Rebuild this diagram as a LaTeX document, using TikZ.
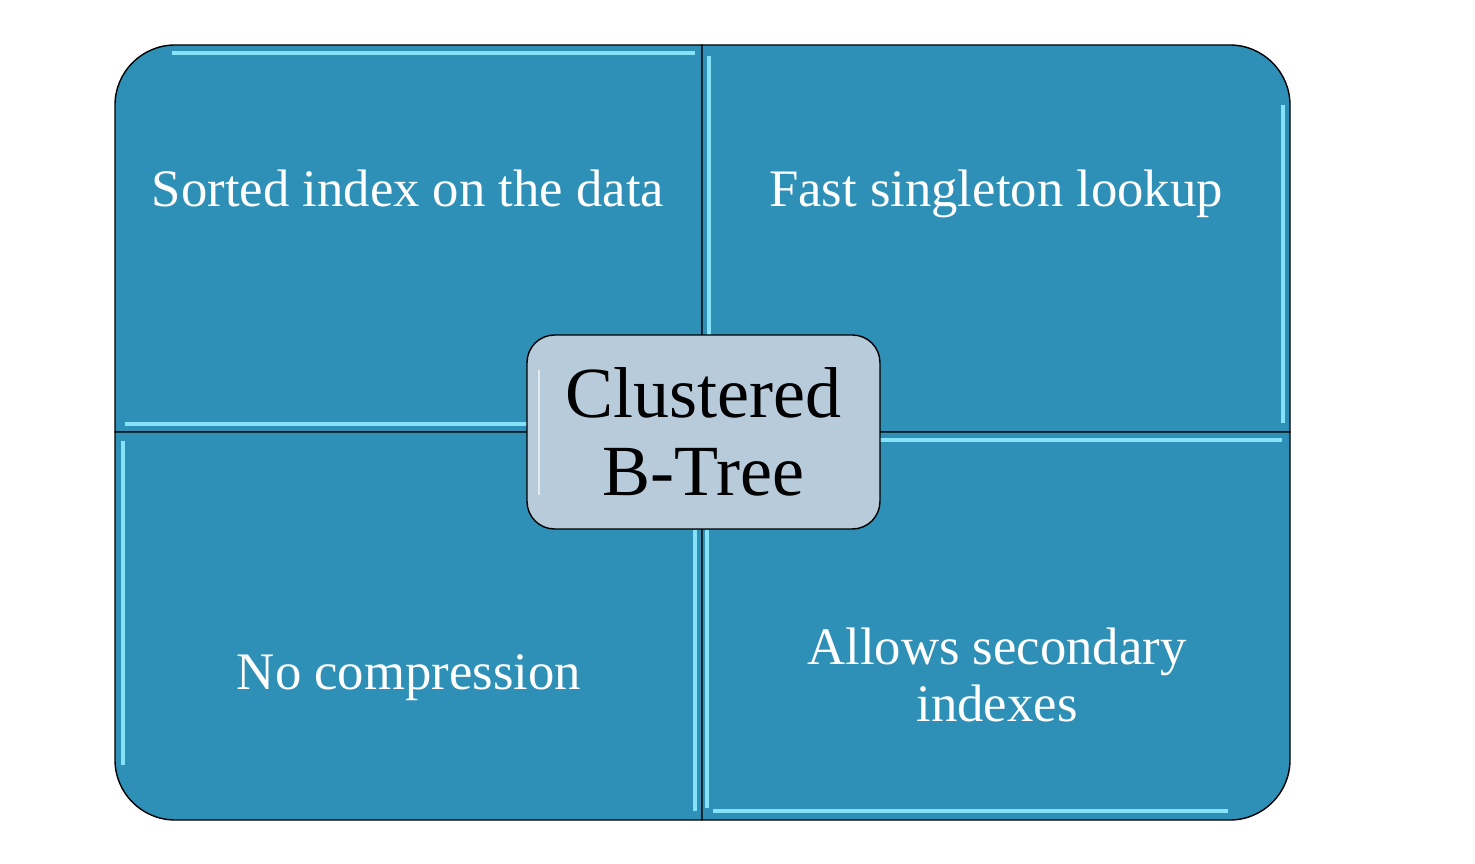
\documentclass[tikz,border=0pt]{standalone}
\usepackage{fontspec}
\setmainfont{Liberation Serif}
\usepackage{tikz}
\definecolor{btblue}{HTML}{2E90B6}
\definecolor{btglow}{HTML}{86E2F6}
\definecolor{btcore}{HTML}{B7CBDA}

\begin{document}
\begin{tikzpicture}[x=0.02cm,y=-0.02cm,
    quad/.style={draw=black,line width=0.8pt,fill=btblue},
    glow/.style={btglow,line width=2.8pt},
    label/.style={text=white,font=\fontsize{30}{32}\selectfont,align=center}]
    \useasboundingbox (0,0) rectangle (1475,864);
    % four quadrants
    \draw[quad] (702,45) -- (175,45) .. controls (142,45) and (115,72) .. (115,105) -- (115,432) -- (702,432) -- cycle;
    \draw[quad] (702,45) -- (1230,45) .. controls (1263,45) and (1290,72) .. (1290,105) -- (1290,432) -- (702,432) -- cycle;
    \draw[quad] (115,432) -- (115,760) .. controls (115,793) and (142,820) .. (175,820) -- (702,820) -- (702,432) -- cycle;
    \draw[quad] (702,432) -- (1290,432) -- (1290,760) .. controls (1290,793) and (1263,820) .. (1230,820) -- (702,820) -- cycle;
    % bevel highlights
    \draw[glow] (172,53) -- (695,53);
    \draw[glow] (125,424) -- (530,424);
    \draw[glow] (709,56) -- (709,340);
    \draw[glow] (1283,105) -- (1283,423);
    \draw[glow] (123,441) -- (123,765);
    \draw[glow] (695,530) -- (695,811);
    \draw[glow] (875,440) -- (1282,440);
    \draw[glow] (713,811) -- (1228,811);
    \draw[glow] (707,530) -- (707,808);
    % texts
    \node[label,anchor=base] (sorted) at (408,207) {Sorted index on the data};
    \node[label,anchor=base] (fast) at (996,207) {Fast singleton lookup};
    \node[label,anchor=base] (nocomp) at (409,690) {No compression};
    \node[label] (allows) at (997,675) {Allows secondary\\indexes};
    % centre
    \node[draw=black,line width=0.8pt,fill=btcore,rounded corners=0.55cm,minimum width=7.06cm,minimum height=3.88cm,align=center,font=\fontsize{41}{44}\selectfont] (core) at (703.5,432) {Clustered\\B-Tree};
    \draw[white,line width=1.6pt,opacity=0.6] (539,370) -- (539,495);
  \end{tikzpicture}
\end{document}
